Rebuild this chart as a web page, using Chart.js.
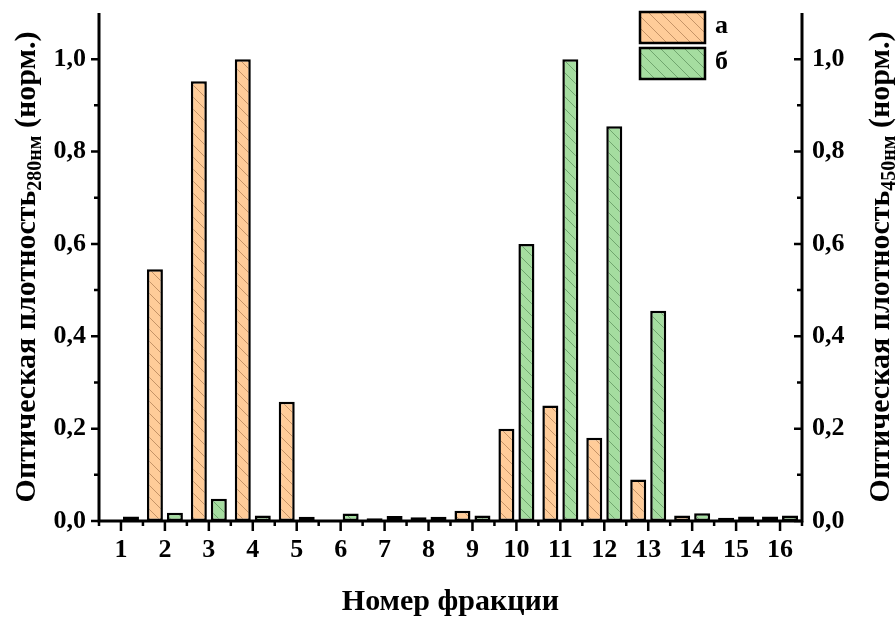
<!DOCTYPE html>
<html><head><meta charset="utf-8">
<script src="https://cdn.jsdelivr.net/npm/chart.js@4/dist/chart.umd.min.js"></script>
<style>html,body{margin:0;padding:0;background:#fff}#wrap{width:896px;height:617px;position:relative}</style>
</head><body><div id="wrap"><canvas id="c" width="896" height="617"></canvas></div>
<script>
const categories = ['1','2','3','4','5','6','7','8','9','10','11','12','13','14','15','16'];
const seriesA = [0.002, 0.545, 0.952, 1.0, 0.258, 0.002, 0.006, 0.008, 0.022, 0.20, 0.25, 0.18, 0.09, 0.012, 0.007, 0.010];
const seriesB = [0.010, 0.018, 0.048, 0.012, 0.009, 0.016, 0.011, 0.009, 0.012, 0.60, 1.0, 0.855, 0.455, 0.017, 0.010, 0.012];
const seriesLabels = ['а', 'б'];
const yTickValues = [0, 0.2, 0.4, 0.6, 0.8, 1.0];
const yMinorValues = [0.1, 0.3, 0.5, 0.7, 0.9];
const xTitle = 'Номер фракции';
const yTitleMain = 'Оптическая плотность';
const yLeftSub = '280нм';
const yRightSub = '450нм';
const yTitleTail = ' (норм.)';

const FONT_FAMILY = '"Liberation Serif", "Times New Roman", serif';
const tickFont = {family: FONT_FAMILY, size: 26, weight: 'bold'};

function hatch(fill, line) {
  const s = 12;
  const c = document.createElement('canvas');
  c.width = s; c.height = s;
  const g = c.getContext('2d');
  g.fillStyle = fill; g.fillRect(0, 0, s, s);
  g.strokeStyle = line; g.lineWidth = 1;
  g.beginPath();
  for (const k of [-s, 0, s]) { g.moveTo(k, 0); g.lineTo(k + s, s); }
  g.stroke();
  return g.createPattern(c, 'repeat');
}
const patA = hatch('#FFCC99', 'rgba(150,100,60,0.55)');
const patB = hatch('#A5DDA0', 'rgba(60,110,60,0.5)');

const axesPlugin = {
  id: 'axesPlugin',
  afterDatasetsDraw(chart) {
    const ctx = chart.ctx, a = chart.chartArea;
    const y = chart.scales.y, x = chart.scales.x;
    const y0 = y.getPixelForValue(0);
    ctx.save();
    ctx.strokeStyle = '#000';
    ctx.lineCap = 'butt';
    ctx.lineWidth = 3;
    ctx.beginPath();
    ctx.moveTo(a.left - 1.5, y0); ctx.lineTo(a.right + 1.5, y0);
    ctx.moveTo(a.left, y0); ctx.lineTo(a.left, a.top);
    ctx.moveTo(a.right, y0); ctx.lineTo(a.right, a.top);
    ctx.stroke();
    ctx.lineWidth = 2.5;
    ctx.beginPath();
    for (const v of yTickValues) {
      const p = y.getPixelForValue(v);
      ctx.moveTo(a.left, p); ctx.lineTo(a.left - 8, p);
      ctx.moveTo(a.right, p); ctx.lineTo(a.right - 8, p);
    }
    for (const v of yMinorValues) {
      const p = y.getPixelForValue(v);
      ctx.moveTo(a.left, p); ctx.lineTo(a.left - 5, p);
      ctx.moveTo(a.right, p); ctx.lineTo(a.right - 5, p);
    }
    const n = categories.length;
    const step = x.getPixelForValue(1) - x.getPixelForValue(0);
    for (let i = 0; i < n; i++) {
      const p = x.getPixelForValue(i);
      ctx.moveTo(p, y0); ctx.lineTo(p, y0 + 10);
    }
    for (let i = 0; i <= n; i++) {
      const p = x.getPixelForValue(0) + (i - 0.5) * step;
      ctx.moveTo(p, y0); ctx.lineTo(p, y0 + 5);
    }
    ctx.stroke();
    ctx.restore();
  }
};

function drawVTitle(ctx, cx, cy, sub) {
  const big = 'bold 30px ' + FONT_FAMILY;
  const small = 'bold 20px ' + FONT_FAMILY;
  ctx.font = big;
  const w1 = ctx.measureText(yTitleMain).width;
  const w3 = ctx.measureText(yTitleTail).width;
  ctx.font = small;
  const w2 = ctx.measureText(sub).width;
  const total = w1 + w2 + w3;
  ctx.save();
  ctx.translate(cx, cy);
  ctx.rotate(-Math.PI / 2);
  ctx.fillStyle = '#000';
  ctx.textBaseline = 'alphabetic';
  ctx.textAlign = 'left';
  let xx = -total / 2;
  ctx.font = big; ctx.fillText(yTitleMain, xx, 0); xx += w1;
  ctx.font = small; ctx.fillText(sub, xx, 6); xx += w2;
  ctx.font = big; ctx.fillText(yTitleTail, xx, 0);
  ctx.restore();
}

const titlePlugin = {
  id: 'titlePlugin',
  afterDraw(chart) {
    const ctx = chart.ctx, a = chart.chartArea;
    ctx.save();
    ctx.fillStyle = '#000';
    ctx.font = 'bold 30px ' + FONT_FAMILY;
    ctx.textAlign = 'center';
    ctx.textBaseline = 'alphabetic';
    ctx.fillText(xTitle, (a.left + a.right) / 2, 610);
    ctx.restore();
    drawVTitle(ctx, 35, 267, yLeftSub);
    drawVTitle(ctx, 889, 267, yRightSub);
  }
};

const legendPlugin = {
  id: 'legendPlugin',
  afterDraw(chart) {
    const ctx = chart.ctx;
    const boxes = [{x: 640, y: 12}, {x: 640, y: 48}];
    chart.data.datasets.forEach((ds, i) => {
      const b = boxes[i];
      ctx.save();
      ctx.fillStyle = ds.backgroundColor;
      ctx.fillRect(b.x, b.y, 65, 31);
      ctx.strokeStyle = '#000'; ctx.lineWidth = 2.5;
      ctx.strokeRect(b.x, b.y, 65, 31);
      ctx.fillStyle = '#000';
      ctx.font = 'bold 26px ' + FONT_FAMILY;
      ctx.textAlign = 'left'; ctx.textBaseline = 'middle';
      ctx.fillText(ds.label, b.x + 75, b.y + 14);
      ctx.restore();
    });
  }
};

const yTickCb = v => Number(v).toFixed(1).replace('.', ',');

new Chart(document.getElementById('c').getContext('2d'), {
  type: 'bar',
  data: {
    labels: categories,
    datasets: [
      {label: seriesLabels[0], data: seriesA, backgroundColor: patA, borderColor: '#000', borderWidth: 2.5, borderSkipped: false, yAxisID: 'y', categoryPercentage: 0.91, barPercentage: 0.8},
      {label: seriesLabels[1], data: seriesB, backgroundColor: patB, borderColor: '#000', borderWidth: 2.5, borderSkipped: false, yAxisID: 'y2', categoryPercentage: 0.91, barPercentage: 0.8}
    ]
  },
  options: {
    responsive: false, animation: false, devicePixelRatio: 1,
    layout: {padding: {top: 13, left: 0, right: 0, bottom: 0}},
    plugins: {legend: {display: false}, tooltip: {enabled: false}},
    scales: {
      x: {
        offset: true,
        grid: {display: false, drawTicks: false}, border: {display: false},
        ticks: {font: tickFont, color: '#000', padding: 14, maxRotation: 0, autoSkip: false},
        afterFit(s) { s.height = 96; s.paddingLeft = 0; s.paddingRight = 0; }
      },
      y: {
        position: 'left', min: 0, max: 1.1,
        afterBuildTicks(s) { s.ticks = yTickValues.map(v => ({value: v})); },
        ticks: {font: tickFont, color: '#000', padding: 13, callback: yTickCb},
        grid: {display: false, drawTicks: false}, border: {display: false},
        afterFit(s) { s.width = 99; s.paddingTop = 0; s.paddingBottom = 0; }
      },
      y2: {
        position: 'right', min: 0, max: 1.1,
        afterBuildTicks(s) { s.ticks = yTickValues.map(v => ({value: v})); },
        ticks: {font: tickFont, color: '#000', padding: 10, callback: yTickCb},
        grid: {display: false, drawTicks: false}, border: {display: false},
        afterFit(s) { s.width = 94; s.paddingTop = 0; s.paddingBottom = 0; }
      }
    }
  },
  plugins: [axesPlugin, titlePlugin, legendPlugin]
});
</script>
</body></html>
